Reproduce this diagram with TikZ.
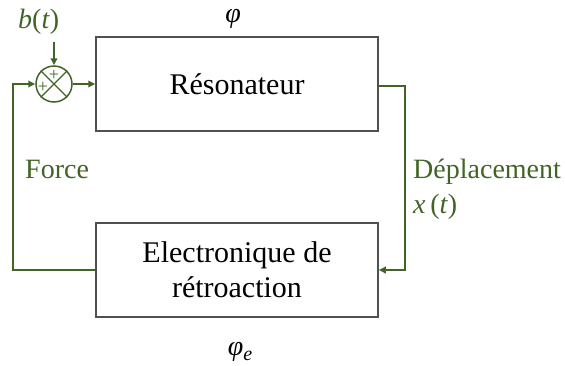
\documentclass[tikz,border=0pt]{standalone}
\usepackage{fontspec}
\setmainfont{Liberation Serif}
\usetikzlibrary{arrows.meta}
\definecolor{fb}{RGB}{66,100,38}
\definecolor{bx}{RGB}{80,80,80}
\begin{document}
\begin{tikzpicture}[x=1pt,y=-1pt,
  font=\rmfamily\fontsize{30}{35}\selectfont,
  blk/.style={draw=bx,line width=1.5pt,minimum width=282pt,minimum height=94pt,inner sep=0pt,align=center,font=\rmfamily\fontsize{30}{35}\selectfont},
  sig/.style={draw=fb,line width=2.4pt},
  arr/.style={sig,-{Triangle[length=7pt,width=6.5pt]}},
  lbl/.style={text=fb,font=\rmfamily\fontsize{28}{33}\selectfont,anchor=base west,inner sep=0pt},
  sym/.style={font=\rmfamily\itshape\fontsize{28}{33}\selectfont,anchor=base,inner sep=0pt},
  pls/.style={text=fb,font=\rmfamily\fontsize{18}{18}\selectfont,inner sep=0pt}]
\useasboundingbox (0,0) rectangle (565,365);
\node[blk] (res) at (237,84) {Résonateur};
\node[blk] (elec) at (237,270) {Electronique de\\rétroaction};
\node[draw=fb,line width=1.5pt,circle,minimum size=36pt,inner sep=0pt] (sum) at (54,84) {};
\draw[fb,line width=1.2pt] (sum.north west) -- (sum.south east) (sum.north east) -- (sum.south west);
\node[pls] (p1) at (54,75) {+};
\node[pls] (p2) at (43,87) {+};
\node[lbl] (b) at (18,28) {\textit{b}(\textit{t})};
\coordinate (bt) at (54,42);
\draw[arr] (bt) -- (sum.north);
\draw[arr] (sum.east) -- (res.west);
\coordinate (fl) at (13,270);
\draw[arr] (elec.west) -- (fl) |- (sum.west);
\coordinate (fr) at (405,86);
\draw[arr] (res.east |- fr) -- (fr) |- (elec.east);
\node[lbl] (force) at (25,178) {Force};
\node[lbl] (dep) at (413,178) {Déplacement};
\node[lbl] (x) at (413,213) {\textit{x}\,(\textit{t})};
\node[sym] (phi) at (233,22) {φ};
\node[sym] (phie) at (240,355) {φ\raisebox{-0.2em}{\fontsize{20}{20}\selectfont e}};
\end{tikzpicture}
\end{document}
